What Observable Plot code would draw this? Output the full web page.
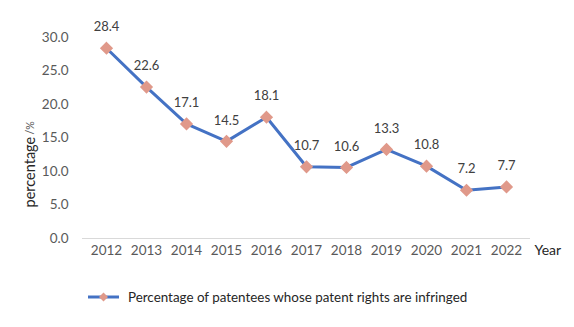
<!DOCTYPE html>
<html>
<head>
<meta charset="utf-8">
<script src="https://cdn.jsdelivr.net/npm/d3@7"></script>
<script src="https://cdn.jsdelivr.net/npm/@observablehq/plot@0.6"></script>
<style>
  html, body { margin: 0; padding: 0; background: #fff; }
  body { width: 574px; height: 327px; overflow: hidden; font-family: Lato, "Open Sans", sans-serif; }
  #legend { position: relative; height: 57px; }
  #legend .item { position: absolute; left: 88px; top: 19px; display: flex; align-items: center; }
  #legend .text { font-size: 13.4px; color: #262626; margin-left: 9px; }
</style>
</head>
<body>
<div id="chart"></div>
<div id="legend"></div>
<script>
const years = ["2012","2013","2014","2015","2016","2017","2018","2019","2020","2021","2022"];
const values = [28.4, 22.6, 17.1, 14.5, 18.1, 10.7, 10.6, 13.3, 10.8, 7.2, 7.7];
const yTicks = [0, 5, 10, 15, 20, 25, 30];
const seriesName = "Percentage of patentees whose patent rights are infringed";
const xLabel = "Year";
const yLabel = "percentage";
const yUnit = "/%";

const lineColor = "#4472C4";
const markerColor = "#E0998A";

const data = years.map((y, i) => ({year: y, value: values[i]}));

const chart = Plot.plot({
  width: 574,
  height: 270,
  marginTop: 37,
  marginBottom: 32,
  marginLeft: 82,
  marginRight: 44,
  style: {fontFamily: "Lato, 'Open Sans', sans-serif", fontSize: "13px", color: "#595959", background: "#fff"},
  x: {type: "point", domain: years, padding: 0.5, label: null},
  y: {domain: [0, 30], label: null},
  marks: [
    Plot.ruleY([0], {stroke: "#d9d9d9", strokeWidth: 1}),
    Plot.axisY({ticks: yTicks, tickFormat: d => d.toFixed(1), tickSize: 0, tickPadding: 14, fontSize: 13.5, fill: "#595959"}),
    Plot.axisX({tickSize: 0, tickPadding: 7, fontSize: 13.5, fill: "#595959"}),
    Plot.text([xLabel], {frameAnchor: "bottom-right", dx: 4, dy: 12, fontSize: 14, fill: "#262626", textAnchor: "start", lineAnchor: "middle"}),
    Plot.text([yLabel], {frameAnchor: "bottom-left", dx: -52, dy: -31, rotate: -90, fontSize: 14.5, fill: "#262626", textAnchor: "start", lineAnchor: "middle"}),
    Plot.text([yUnit], {frameAnchor: "bottom-left", dx: -52, dy: -104, rotate: -90, fontSize: 10.5, fill: "#595959", textAnchor: "start", lineAnchor: "middle"}),
    Plot.line(data, {x: "year", y: "value", stroke: lineColor, strokeWidth: 3}),
    Plot.dot(data, {x: "year", y: "value", symbol: "diamond2", r: 5, fill: markerColor, stroke: markerColor}),
    Plot.text(data, {x: "year", y: "value", text: d => d.value.toFixed(1), dy: -21, fontSize: 13, fill: "#404040"})
  ]
});
document.getElementById("chart").appendChild(chart);

// legend
const item = document.createElement("div");
item.className = "item";
item.innerHTML = `<svg width="31" height="12"><line x1="0" y1="6" x2="31" y2="6" stroke="${lineColor}" stroke-width="3"/><path d="M15.5,1.5 L20,6 L15.5,10.5 L11,6 Z" fill="${markerColor}"/></svg><span class="text">${seriesName}</span>`;
document.getElementById("legend").appendChild(item);
</script>
</body>
</html>
